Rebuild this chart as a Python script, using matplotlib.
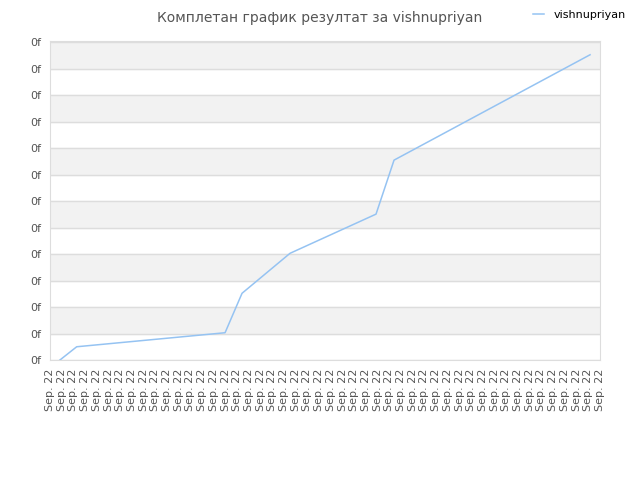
import matplotlib
matplotlib.use("Agg")
import matplotlib.pyplot as plt

# data (x in tick units, y in grid units)
x_vals = [0.85, 2.28, 14.96, 16.41, 20.51, 27.86, 29.4, 46.15]
y_vals = [0.0, 0.5, 1.03, 2.52, 4.03, 5.51, 7.55, 11.53]
x_labels = ['Sep. 22'] * 48
y_labels = ['0f'] * 13
series_name = 'vishnupriyan'
title = 'Комплетан график резултат за vishnupriyan'

fig = plt.figure(figsize=(6.4, 4.8), dpi=100)
ax = fig.add_axes([50 / 640, 120 / 480, 550 / 640, 319 / 480])

# alternating grey bands
for k in range(1, len(y_labels) - 1, 2):
    ax.axhspan(k, k + 1, color='#f2f2f2', zorder=0)

ax.plot(x_vals, y_vals, color='#95c3f2', linewidth=1.1, label=series_name, zorder=3)

ax.set_xlim(0, len(x_labels) - 1)
ax.set_ylim(0, len(y_labels) - 1 + 0.05)
ax.set_xticks(range(len(x_labels)))
ax.set_xticklabels(x_labels, rotation=90, fontsize=8, color='#555555')
ax.set_yticks(range(len(y_labels)))
ax.set_yticklabels(y_labels, fontsize=8, color='#555555')
ax.tick_params(length=0, pad=6)
ax.grid(axis='y', color='#dddddd', linewidth=1, zorder=1)
ax.set_axisbelow(True)
for s in ax.spines.values():
    s.set_color('#dddddd')

fig.text(0.5, 0.978, title, ha='center', va='top', fontsize=10, color='#555555')
fig.legend(loc='upper right', bbox_to_anchor=(0.993, 1.0), frameon=False,
           fontsize=8, handlelength=1.0, handletextpad=0.8)

fig.savefig('out.png', dpi=100)
